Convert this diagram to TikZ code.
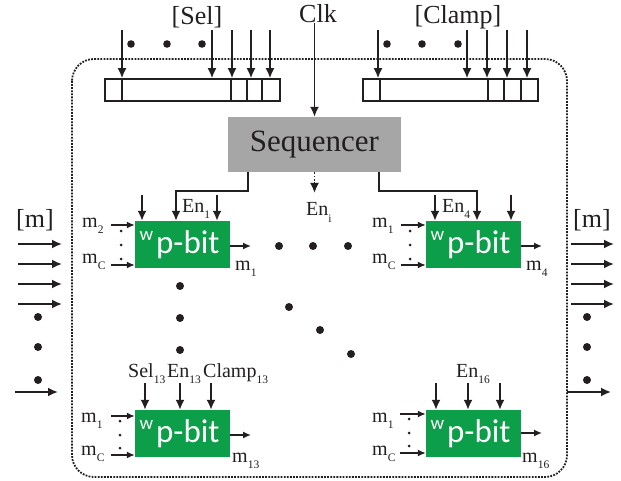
\documentclass[tikz,border=0pt]{standalone}
\usepackage{fontspec}
\setmainfont{Liberation Serif}
\newfontfamily\pbitfont{Carlito}
\usetikzlibrary{arrows.meta}
\definecolor{pgreen}{RGB}{12,158,72}
\definecolor{seqgray}{RGB}{166,166,166}
\definecolor{ink}{RGB}{35,31,32}
\newcommand{\sbs}[1]{\raisebox{-0.3em}{\fontsize{11.5}{11.5}\selectfont #1}}
\tikzset{
  arr/.style={draw=ink, line width=1.8pt, -{Latex[length=10pt,width=9pt]}},
  sarr/.style={draw=ink, line width=1.5pt, -{Latex[length=8pt,width=7pt]}},
  biglab/.style={font=\fontsize{26}{26}\selectfont, text=ink, inner sep=0pt},
  smlab/.style={font=\fontsize{20}{20}\selectfont, text=ink, inner sep=0pt, anchor=base west},
  pbit/.style={fill=pgreen, minimum width=95pt, minimum height=47pt, inner sep=0pt, text=white,
    font=\pbitfont\fontsize{33}{33}\selectfont},
  reg/.style={draw=ink, line width=1.6pt, minimum width=175pt, minimum height=22pt, inner sep=0pt},
  frame/.style={draw=ink, line width=1.8pt, dash pattern=on 1.8pt off 1.3pt, rounded corners=22pt},
  bigdot/.style={fill=ink},
}
\newcommand{\pbittext}{\raisebox{12.5pt}{\fontsize{19}{19}\selectfont w}\kern3pt p-bit\kern6pt}
\begin{document}
\begin{tikzpicture}[x=1pt,y=-1pt]
\useasboundingbox (0,0) rectangle (621,481);
% frame
\draw[frame] (72,59) rectangle (567,477);

% top labels
\node[biglab] (sellab) at (197,17) {[Sel]};
\node[biglab] (clk) at (318,14) {Clk};
\node[biglab] (clamplab) at (458,17) {[Clamp]};

% registers
\node[reg] (selreg) at (192.5,90) {};
\foreach \x in {122,231,247,262} \draw[ink, line width=1.6pt] (\x,79) -- (\x,101);
\node[reg] (clampreg) at (450.5,90) {};
\foreach \x in {380,488,504,521} \draw[ink, line width=1.6pt] (\x,79) -- (\x,101);

\foreach \x [count=\i] in {122,212,232,251,270} {
  \coordinate (s\i) at (\x,30);
  \draw[arr] (s\i) -- (s\i |- selreg.north);
}
\foreach \x [count=\i] in {378,467,487,507,527} {
  \coordinate (c\i) at (\x,30);
  \draw[arr] (c\i) -- (c\i |- clampreg.north);
}
\foreach \x in {131,167,202,387,422,458} \fill[bigdot] (\x,44) circle (3.8);

% sequencer
\node[fill=seqgray, minimum width=173pt, minimum height=55pt, inner sep=0pt,
  font=\fontsize{31}{31}\selectfont, text=ink] (seq) at (314.5,144.5) {Sequencer};
\draw[arr] (clk.south -| seq.north) -- (seq.north);

% p-bits
\node[pbit] (p1) at (182.5,244.5) {\pbittext};
\node[pbit] (p4) at (473.5,244.5) {\pbittext};
\node[pbit] (p13) at (182.5,433.5) {\pbittext};
\node[pbit] (p16) at (473.5,433.5) {\pbittext};

% sequencer outputs
\draw[arr] ([xshift=-66.5pt]seq.south) -- ++(0,19) -| ([xshift=-6.5pt]p1.north);
\draw[arr] ([xshift=64.5pt]seq.south) -- ++(0,19) -| ([xshift=3.5pt]p4.north);
\coordinate (enit) at (314.5,193);
\draw[arr, dash pattern=on 1.8pt off 1.6pt] (seq.south) -- (enit);
\node[smlab] (eni) at (306,216) {En\sbs{i}};

% p1 top inputs
\foreach \x [count=\i] in {142,217} {
  \coordinate (a1\i) at (\x,195);
  \draw[arr] (a1\i) -- (a1\i |- p1.north);
}
\node[smlab] (en1) at (182,212) {En\sbs{1}};
% p4 top inputs
\foreach \x [count=\i] in {435,511} {
  \coordinate (a4\i) at (\x,195);
  \draw[arr] (a4\i) -- (a4\i |- p4.north);
}
\node[smlab] (en4) at (442,212) {En\sbs{4}};
% p13 top inputs
\foreach \x [count=\i] in {145,180,211} {
  \coordinate (a13\i) at (\x,383);
  \draw[arr] (a13\i) -- (a13\i |- p13.north);
}
\node[smlab] (sel13) at (128,377) {Sel\sbs{13}};
\node[smlab] (en13) at (167,377) {En\sbs{13}};
\node[smlab] (cl13) at (203,377) {Clamp\sbs{13}};
% p16 top inputs
\foreach \x [count=\i] in {436,468,500} {
  \coordinate (a16\i) at (\x,383);
  \draw[arr] (a16\i) -- (a16\i |- p16.north);
}
\node[smlab] (en16) at (456,377) {En\sbs{16}};

% side inputs
\coordinate (i1a) at (111,225); \coordinate (i1b) at (111,265);
\draw[sarr] (i1a) -- (i1a -| p1.west);
\draw[sarr] (i1b) -- (i1b -| p1.west);
\node[smlab] (m2a) at (82,227) {m\sbs{2}};
\node[smlab] (mca) at (82,263) {m\sbs{C}};
\foreach \y in {231,245,259} \fill[ink] (121,\y) circle (1.5);

\coordinate (i4a) at (401,225); \coordinate (i4b) at (401,265);
\draw[sarr] (i4a) -- (i4a -| p4.west);
\draw[sarr] (i4b) -- (i4b -| p4.west);
\node[smlab] (m1b) at (372,227) {m\sbs{1}};
\node[smlab] (mcb) at (372,263) {m\sbs{C}};
\foreach \y in {231,245,259} \fill[ink] (410,\y) circle (1.5);

\coordinate (i13a) at (111,416); \coordinate (i13b) at (111,455);
\draw[sarr] (i13a) -- (i13a -| p13.west);
\draw[sarr] (i13b) -- (i13b -| p13.west);
\node[smlab] (m1c) at (81,422) {m\sbs{1}};
\node[smlab] (mcc) at (81,455) {m\sbs{C}};
\foreach \y in {421,435,448} \fill[ink] (120,\y) circle (1.5);

\coordinate (i16a) at (400,414); \coordinate (i16b) at (400,453);
\draw[sarr] (i16a) -- (i16a -| p16.west);
\draw[sarr] (i16b) -- (i16b -| p16.west);
\node[smlab] (m1d) at (372,422) {m\sbs{1}};
\node[smlab] (mcd) at (372,455) {m\sbs{C}};
\foreach \y in {419,433,446} \fill[ink] (409,\y) circle (1.5);

% outputs
\coordinate (o1) at (251,246); \draw[sarr] (o1 -| p1.east) -- (o1);
\node[smlab] (out1) at (235,270) {m\sbs{1}};
\coordinate (o4) at (542,246); \draw[sarr] (o4 -| p4.east) -- (o4);
\node[smlab] (out4) at (526,270) {m\sbs{4}};
\coordinate (o13) at (251,435); \draw[sarr] (o13 -| p13.east) -- (o13);
\node[smlab] (out13) at (232,462) {m\sbs{13}};
\coordinate (o16) at (542,433); \draw[sarr] (o16 -| p16.east) -- (o16);
\node[smlab] (out16) at (522,462) {m\sbs{16}};

% ellipsis dots in the array
\foreach \x in {279,313,348} \fill[bigdot] (\x,246) circle (4);
\foreach \y in {286,318,350} \fill[bigdot] (180,\y) circle (4);
\fill[bigdot] (289,307) circle (4);
\fill[bigdot] (320,330) circle (4);
\fill[bigdot] (351,354) circle (4);

% left bus
\node[biglab] (mleft) at (35,220) {[m]};
\foreach \y [count=\i] in {244,264,284,304} {
  \coordinate (l\i) at (18,\y);
  \draw[arr] (l\i) -- ++(44,0);
}
\coordinate (l5) at (15,392); \draw[arr] (l5) -- ++(43,0);
\foreach \y in {317,347,380} \fill[bigdot] (38,\y) circle (4);

% right bus
\node[biglab] (mright) at (592,220) {[m]};
\foreach \y [count=\i] in {244,264,284,304} {
  \coordinate (r\i) at (571,\y);
  \draw[arr] (r\i) -- ++(43,0);
}
\coordinate (r5) at (567,392); \draw[arr] (r5) -- ++(44,0);
\foreach \y in {317,347,380} \fill[bigdot] (587,\y) circle (4);
\end{tikzpicture}
\end{document}
